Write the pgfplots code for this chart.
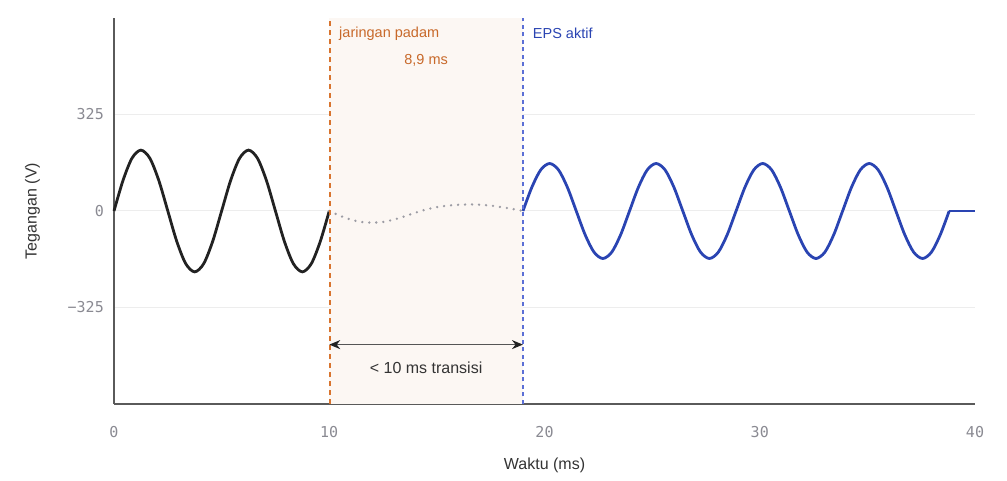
\documentclass[border=0pt]{standalone}
\usepackage{pgfplots}
\pgfplotsset{compat=1.18}
\usepackage{fontspec}
\setmainfont{Liberation Sans}
\setmonofont{DejaVu Sans Mono}
\usetikzlibrary{arrows.meta}

\definecolor{gridc}{HTML}{EDEDED}
\definecolor{axisc}{HTML}{5A5A5A}
\definecolor{tickc}{HTML}{8A8A92}
\definecolor{gridblack}{HTML}{222222}
\definecolor{epsblue}{HTML}{2A44B2}
\definecolor{dashblue}{HTML}{5B6FD6}
\definecolor{cutorange}{HTML}{C8692A}
\definecolor{dashorange}{HTML}{D8742E}
\definecolor{shade}{HTML}{FCF7F3}
\definecolor{dotgray}{HTML}{9C9CA4}
\definecolor{textdark}{HTML}{333333}
\definecolor{arrowc}{HTML}{555555}

\begin{document}
\begin{tikzpicture}
\useasboundingbox (-114pt,-77pt) rectangle (893pt,404pt);
\begin{axis}[
    scale only axis,
    width=861pt, height=386pt,
    xmin=0, xmax=40, ymin=-650, ymax=650,
    axis lines=left,
    axis line style={draw=axisc, line width=1.4pt, -},
    major tick length=0pt,
    xtick={0,10,20,30,40},
    xticklabels={0,10,20,30,40},
    ytick={-325,0,325},
    yticklabels={−325,0,325},
    ymajorgrids,
    grid style={gridc, line width=1pt},
    tick label style={font=\ttfamily\fontsize{15}{15}\selectfont, text=tickc, inner sep=0pt},
    xticklabel style={anchor=base, yshift=-33.5pt},
    yticklabel style={anchor=east, xshift=-10pt},
    xlabel={Waktu (ms)},
    ylabel={Tegangan (V)},
    label style={font=\fontsize{16}{16}\selectfont, text=textdark},
    xlabel style={at={(axis description cs:0.5,-0.158)}, anchor=center},
    ylabel style={at={(axis description cs:-0.0946,0.5)}, anchor=center},
    clip=false,
]
% transition window
\addplot[fill=shade, draw=none] coordinates {(10,-650) (10,650) (19,650) (19,-650)} -- cycle;

% grid mains
\addplot[gridblack, line width=2.8pt, smooth] coordinates {
(0,0) (0.4167,102.5) (0.8333,177.5) (1.25,205) (1.6667,177.5) (2.0833,102.5)
(2.5,0) (2.9167,-102.5) (3.3333,-177.5) (3.75,-205) (4.1667,-177.5) (4.5833,-102.5)
(5,0) (5.4167,102.5) (5.8333,177.5) (6.25,205) (6.6667,177.5) (7.0833,102.5)
(7.5,0) (7.9167,-102.5) (8.3333,-177.5) (8.75,-205) (9.1667,-177.5) (9.5833,-102.5)
(10,0)};

% residual during outage
\addplot[dotgray, line width=2.6pt, line cap=round, dash pattern=on 0pt off 7pt, smooth] coordinates {
(10,0) (10.5,-16) (11,-29) (11.5,-37) (12,-39) (12.5,-37) (13,-29) (13.5,-18)
(14,-6) (14.5,5) (15,13) (15.5,18) (16,21) (16.5,22) (17,21) (17.5,18)
(18,13) (18.5,7) (19,0)};

% EPS output
\addplot[epsblue, line width=2.8pt, smooth] coordinates {
(19.0,0) (19.4125,80) (19.825,138.6) (20.2375,160) (20.65,138.6) (21.0625,80)
(21.475,0) (21.8875,-80) (22.3,-138.6) (22.7125,-160) (23.125,-138.6) (23.5375,-80)
(23.95,0) (24.3625,80) (24.775,138.6) (25.1875,160) (25.6,138.6) (26.0125,80)
(26.425,0) (26.8375,-80) (27.25,-138.6) (27.6625,-160) (28.075,-138.6) (28.4875,-80)
(28.9,0) (29.3125,80) (29.725,138.6) (30.1375,160) (30.55,138.6) (30.9625,80)
(31.375,0) (31.7875,-80) (32.2,-138.6) (32.6125,-160) (33.025,-138.6) (33.4375,-80)
(33.85,0) (34.2625,80) (34.675,138.6) (35.0875,160) (35.5,138.6) (35.9125,80)
(36.325,0) (36.7375,-80) (37.15,-138.6) (37.5625,-160) (37.975,-138.6) (38.3875,-80)
(38.8,0)};
\addplot[epsblue, line width=2.8pt] coordinates {(38.8,0) (40,0)};

% event markers
\addplot[dashorange, line width=1.7pt, dash pattern=on 5pt off 4pt] coordinates {(10.02,-650) (10.02,650)};
\addplot[dashblue, line width=1.5pt, dash pattern=on 4pt off 3.5pt] coordinates {(19,-650) (19,650)};

\addplot[arrowc, line width=1.5pt, {Stealth[length=11pt,width=9pt,color=gridblack]}-{Stealth[length=11pt,width=9pt,color=gridblack]}] coordinates {(10,-450) (19,-450)};

\node[anchor=west, text=cutorange, font=\fontsize{14.5}{14.5}\selectfont] at (axis cs:10.3,598) {jaringan padam};
\node[text=cutorange, font=\fontsize{14.5}{14.5}\selectfont] at (axis cs:14.5,507) {8,9 ms};
\node[anchor=west, text=epsblue, font=\fontsize{14.5}{14.5}\selectfont] at (axis cs:19.3,598) {EPS aktif};
\node[text=textdark, font=\fontsize{16}{16}\selectfont] at (axis cs:14.5,-528) {< 10 ms transisi};
\end{axis}
\end{tikzpicture}
\end{document}
